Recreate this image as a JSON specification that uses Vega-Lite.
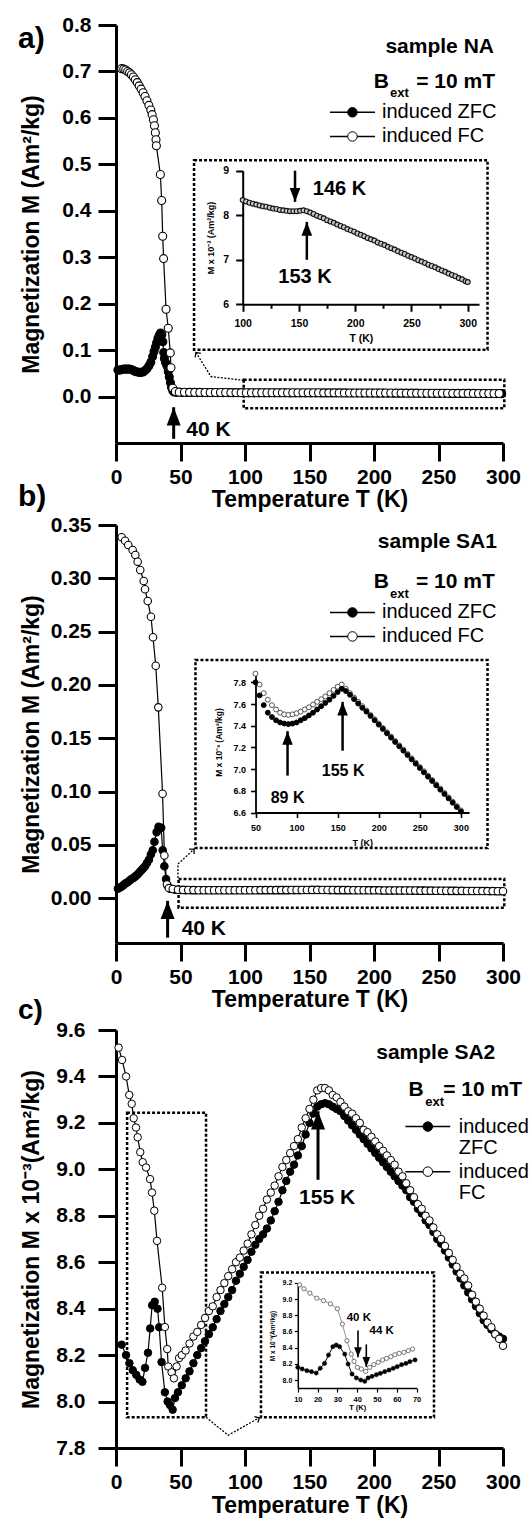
{
"$schema": "https://vega.github.io/schema/vega-lite/v6.json",
"background": "white",
"padding": {"left": 17, "top": 14, "right": 4, "bottom": 4},
"config": {
  "view": {"stroke": null},
  "axis": {"domainColor": "black", "domainWidth": 3, "tickColor": "black", "tickWidth": 3, "tickSize": 18, "labelFont": "Liberation Sans", "labelFontWeight": "bold", "labelFontSize": 21, "labelColor": "black", "titleFont": "Liberation Sans", "titleFontWeight": "bold", "titleFontSize": 23, "titleColor": "black", "grid": false, "labelOverlap": false, "labelFlush": false, "labelBound": false},
  "text": {"font": "Liberation Sans", "color": "black"}
},
"datasets": {
  "a_main": [
    {"s":"ZFC","T":1.5,"M":0.057},{"s":"ZFC","T":3,"M":0.057},{"s":"ZFC","T":4.5,"M":0.058},{"s":"ZFC","T":6,"M":0.059},{"s":"ZFC","T":7.5,"M":0.059},{"s":"ZFC","T":9,"M":0.059},{"s":"ZFC","T":10.5,"M":0.059},{"s":"ZFC","T":12,"M":0.058},{"s":"ZFC","T":13.5,"M":0.056},{"s":"ZFC","T":15,"M":0.054},{"s":"ZFC","T":16.5,"M":0.053},{"s":"ZFC","T":18,"M":0.052},{"s":"ZFC","T":19.5,"M":0.052},{"s":"ZFC","T":21,"M":0.053},{"s":"ZFC","T":22.5,"M":0.056},{"s":"ZFC","T":24,"M":0.060},{"s":"ZFC","T":25.5,"M":0.066},{"s":"ZFC","T":27,"M":0.074},{"s":"ZFC","T":28.4,"M":0.086},{"s":"ZFC","T":29.5,"M":0.097},{"s":"ZFC","T":30.5,"M":0.106},{"s":"ZFC","T":31.5,"M":0.116},{"s":"ZFC","T":32.5,"M":0.125},{"s":"ZFC","T":33.5,"M":0.132},{"s":"ZFC","T":34.5,"M":0.137},{"s":"ZFC","T":35.5,"M":0.133},{"s":"ZFC","T":36.3,"M":0.118},{"s":"ZFC","T":37,"M":0.095},{"s":"ZFC","T":37.5,"M":0.082},{"s":"ZFC","T":38.5,"M":0.073},{"s":"ZFC","T":39.5,"M":0.066},{"s":"ZFC","T":40.5,"M":0.054},{"s":"ZFC","T":41.3,"M":0.042},{"s":"ZFC","T":42.2,"M":0.030},{"s":"ZFC","T":43,"M":0.020},{"s":"ZFC","T":44,"M":0.013},{"s":"ZFC","T":45,"M":0.010},
    {"s":"ZFC","T":47,"M":0.0090},{"s":"ZFC","T":51,"M":0.0088},{"s":"ZFC","T":55,"M":0.0087},{"s":"ZFC","T":59,"M":0.0086},{"s":"ZFC","T":63,"M":0.0085},{"s":"ZFC","T":67,"M":0.0085},{"s":"ZFC","T":71,"M":0.0084},{"s":"ZFC","T":75,"M":0.0084},{"s":"ZFC","T":79,"M":0.0083},{"s":"ZFC","T":83,"M":0.0083},{"s":"ZFC","T":87,"M":0.0082},{"s":"ZFC","T":91,"M":0.0082},{"s":"ZFC","T":95,"M":0.0081},{"s":"ZFC","T":99,"M":0.0081},{"s":"ZFC","T":103,"M":0.0080},{"s":"ZFC","T":107,"M":0.0080},{"s":"ZFC","T":111,"M":0.0080},{"s":"ZFC","T":115,"M":0.0079},{"s":"ZFC","T":119,"M":0.0079},{"s":"ZFC","T":123,"M":0.0079},{"s":"ZFC","T":127,"M":0.0079},{"s":"ZFC","T":131,"M":0.0079},{"s":"ZFC","T":135,"M":0.0078},{"s":"ZFC","T":139,"M":0.0078},{"s":"ZFC","T":143,"M":0.0078},{"s":"ZFC","T":147,"M":0.0078},{"s":"ZFC","T":151,"M":0.0078},{"s":"ZFC","T":155,"M":0.0078},{"s":"ZFC","T":159,"M":0.0078},{"s":"ZFC","T":163,"M":0.0077},{"s":"ZFC","T":167,"M":0.0077},{"s":"ZFC","T":171,"M":0.0077},{"s":"ZFC","T":175,"M":0.0076},{"s":"ZFC","T":179,"M":0.0076},{"s":"ZFC","T":183,"M":0.0075},{"s":"ZFC","T":187,"M":0.0075},{"s":"ZFC","T":191,"M":0.0074},{"s":"ZFC","T":195,"M":0.0074},{"s":"ZFC","T":199,"M":0.0074},{"s":"ZFC","T":203,"M":0.0073},{"s":"ZFC","T":207,"M":0.0073},{"s":"ZFC","T":211,"M":0.0072},{"s":"ZFC","T":215,"M":0.0072},{"s":"ZFC","T":219,"M":0.0071},{"s":"ZFC","T":223,"M":0.0071},{"s":"ZFC","T":227,"M":0.0071},{"s":"ZFC","T":231,"M":0.0070},{"s":"ZFC","T":235,"M":0.0070},{"s":"ZFC","T":239,"M":0.0069},{"s":"ZFC","T":243,"M":0.0069},{"s":"ZFC","T":247,"M":0.0068},{"s":"ZFC","T":251,"M":0.0068},{"s":"ZFC","T":255,"M":0.0068},{"s":"ZFC","T":259,"M":0.0067},{"s":"ZFC","T":263,"M":0.0067},{"s":"ZFC","T":267,"M":0.0066},{"s":"ZFC","T":271,"M":0.0066},{"s":"ZFC","T":275,"M":0.0065},{"s":"ZFC","T":279,"M":0.0065},{"s":"ZFC","T":283,"M":0.0065},{"s":"ZFC","T":287,"M":0.0064},{"s":"ZFC","T":291,"M":0.0064},{"s":"ZFC","T":295,"M":0.0063},{"s":"ZFC","T":299,"M":0.0063},
    {"s":"FC","T":4.4,"M":0.706},{"s":"FC","T":6,"M":0.705},{"s":"FC","T":7.5,"M":0.703},{"s":"FC","T":9,"M":0.700},{"s":"FC","T":10.5,"M":0.697},{"s":"FC","T":12,"M":0.693},{"s":"FC","T":13.5,"M":0.688},{"s":"FC","T":15,"M":0.682},{"s":"FC","T":16.5,"M":0.676},{"s":"FC","T":18,"M":0.669},{"s":"FC","T":19.5,"M":0.662},{"s":"FC","T":21,"M":0.654},{"s":"FC","T":22.5,"M":0.646},{"s":"FC","T":24,"M":0.637},{"s":"FC","T":25.5,"M":0.627},{"s":"FC","T":27,"M":0.617},{"s":"FC","T":28,"M":0.607},{"s":"FC","T":29,"M":0.596},{"s":"FC","T":29.8,"M":0.583},{"s":"FC","T":30.5,"M":0.568},{"s":"FC","T":31,"M":0.553},{"s":"FC","T":31.3,"M":0.540},{"s":"FC","T":34.4,"M":0.478},{"s":"FC","T":35.4,"M":0.422},{"s":"FC","T":36.2,"M":0.345},{"s":"FC","T":36.9,"M":0.297},{"s":"FC","T":38.8,"M":0.188},{"s":"FC","T":40.5,"M":0.147},{"s":"FC","T":42.1,"M":0.094},{"s":"FC","T":42.6,"M":0.062},{"s":"FC","T":44,"M":0.018},{"s":"FC","T":46,"M":0.011},
    {"s":"FC","T":49,"M":0.0095},{"s":"FC","T":53,"M":0.0092},{"s":"FC","T":57,"M":0.0091},{"s":"FC","T":61,"M":0.0090},{"s":"FC","T":65,"M":0.0089},{"s":"FC","T":69,"M":0.0088},{"s":"FC","T":73,"M":0.0087},{"s":"FC","T":77,"M":0.0087},{"s":"FC","T":81,"M":0.0086},{"s":"FC","T":85,"M":0.0086},{"s":"FC","T":89,"M":0.0085},{"s":"FC","T":93,"M":0.0085},{"s":"FC","T":97,"M":0.0084},{"s":"FC","T":101,"M":0.0083},{"s":"FC","T":105,"M":0.0083},{"s":"FC","T":109,"M":0.0083},{"s":"FC","T":113,"M":0.0082},{"s":"FC","T":117,"M":0.0082},{"s":"FC","T":121,"M":0.0082},{"s":"FC","T":125,"M":0.0082},{"s":"FC","T":129,"M":0.0081},{"s":"FC","T":133,"M":0.0081},{"s":"FC","T":137,"M":0.0081},{"s":"FC","T":141,"M":0.0081},{"s":"FC","T":145,"M":0.0081},{"s":"FC","T":149,"M":0.0081},{"s":"FC","T":153,"M":0.0081},{"s":"FC","T":157,"M":0.0081},{"s":"FC","T":161,"M":0.0080},{"s":"FC","T":165,"M":0.0080},{"s":"FC","T":169,"M":0.0080},{"s":"FC","T":173,"M":0.0079},{"s":"FC","T":177,"M":0.0079},{"s":"FC","T":181,"M":0.0078},{"s":"FC","T":185,"M":0.0078},{"s":"FC","T":189,"M":0.0077},{"s":"FC","T":193,"M":0.0077},{"s":"FC","T":197,"M":0.0076},{"s":"FC","T":201,"M":0.0076},{"s":"FC","T":205,"M":0.0076},{"s":"FC","T":209,"M":0.0075},{"s":"FC","T":213,"M":0.0075},{"s":"FC","T":217,"M":0.0074},{"s":"FC","T":221,"M":0.0074},{"s":"FC","T":225,"M":0.0073},{"s":"FC","T":229,"M":0.0073},{"s":"FC","T":233,"M":0.0073},{"s":"FC","T":237,"M":0.0072},{"s":"FC","T":241,"M":0.0072},{"s":"FC","T":245,"M":0.0071},{"s":"FC","T":249,"M":0.0071},{"s":"FC","T":253,"M":0.0070},{"s":"FC","T":257,"M":0.0070},{"s":"FC","T":261,"M":0.0069},{"s":"FC","T":265,"M":0.0069},{"s":"FC","T":269,"M":0.0069},{"s":"FC","T":273,"M":0.0068},{"s":"FC","T":277,"M":0.0068},{"s":"FC","T":281,"M":0.0067},{"s":"FC","T":285,"M":0.0067},{"s":"FC","T":289,"M":0.0066},{"s":"FC","T":293,"M":0.0066},{"s":"FC","T":297,"M":0.0065}
  ],
  "a_box": [{"T":60.5,"T2":288,"M":0.101,"M2":0.509},{"T":99,"T2":301,"M":-0.025,"M2":0.036}],
  "a_con": [{"k":1,"T":99,"M":0.035},{"k":2,"T":73.6,"M":0.043},{"k":3,"T":62,"M":0.095}],
  "a_arr": [{"T":44.7,"M":-0.091,"M2":-0.023,"dir":"up"}],
  "a_leg": [{"s":"ZFC","T":165.9,"T2":200.8,"Tc":183.3,"M":0.612},{"s":"FC","T":165.9,"T2":200.8,"Tc":183.3,"M":0.560}],
  "a_txt": [
    {"role":"panel","T":-76,"M":0.769,"text":"a)"},
    {"role":"head","T":293,"M":0.752,"text":"sample NA"},
    {"role":"head","T":293.8,"M":0.677,"text":"= 10 mT"},
    {"role":"head","T":211.6,"M":0.677,"text":"B"},
    {"role":"sub","T":212.4,"M":0.653,"text":"ext"},
    {"role":"leg","T":206.2,"M":0.612,"text":"induced ZFC"},
    {"role":"leg","T":206.2,"M":0.560,"text":"induced FC"},
    {"role":"ann","T":71.7,"M":-0.073,"text":"40 K"}
  ],
  "a_ins": [
    {"T":100,"M":8.34},{"T":103,"M":8.31},{"T":106,"M":8.28},{"T":109,"M":8.26},{"T":112,"M":8.24},{"T":115,"M":8.22},{"T":118,"M":8.20},{"T":121,"M":8.19},{"T":124,"M":8.17},{"T":127,"M":8.15},{"T":130,"M":8.14},{"T":133,"M":8.12},{"T":136,"M":8.11},{"T":139,"M":8.10},{"T":142,"M":8.09},{"T":145,"M":8.09},{"T":148,"M":8.09},{"T":151,"M":8.10},{"T":154,"M":8.11},{"T":157,"M":8.09},{"T":160,"M":8.06},{"T":163,"M":8.03},{"T":166,"M":7.99},{"T":169,"M":7.96},{"T":172,"M":7.93},{"T":175,"M":7.89},{"T":178,"M":7.86},{"T":181,"M":7.83},{"T":184,"M":7.79},{"T":187,"M":7.76},{"T":190,"M":7.73},{"T":193,"M":7.69},{"T":196,"M":7.66},{"T":199,"M":7.63},{"T":202,"M":7.59},{"T":205,"M":7.56},{"T":208,"M":7.53},{"T":211,"M":7.49},{"T":214,"M":7.46},{"T":217,"M":7.43},{"T":220,"M":7.39},{"T":223,"M":7.36},{"T":226,"M":7.33},{"T":229,"M":7.29},{"T":232,"M":7.26},{"T":235,"M":7.23},{"T":238,"M":7.19},{"T":241,"M":7.16},{"T":244,"M":7.13},{"T":247,"M":7.09},{"T":250,"M":7.06},{"T":253,"M":7.03},{"T":256,"M":6.99},{"T":259,"M":6.96},{"T":262,"M":6.93},{"T":265,"M":6.89},{"T":268,"M":6.86},{"T":271,"M":6.83},{"T":274,"M":6.79},{"T":277,"M":6.76},{"T":280,"M":6.73},{"T":283,"M":6.69},{"T":286,"M":6.66},{"T":289,"M":6.63},{"T":292,"M":6.59},{"T":295,"M":6.56},{"T":298,"M":6.52},{"T":300,"M":6.50}
  ],
  "a_iarr": [{"T":146.5,"M":9.0,"M2":8.30,"dir":"down"},{"T":157,"M":7.0,"M2":7.85,"dir":"up"}],
  "a_itxt": [{"T":186,"M":8.6,"text":"146 K"},{"T":155.4,"M":6.62,"text":"153 K"}],
  "b_main": [
    {"s":"ZFC","T":1.5,"M":0.009},{"s":"ZFC","T":3,"M":0.010},{"s":"ZFC","T":4.5,"M":0.011},{"s":"ZFC","T":6,"M":0.0125},{"s":"ZFC","T":7.5,"M":0.014},{"s":"ZFC","T":9,"M":0.015},{"s":"ZFC","T":10.5,"M":0.0165},{"s":"ZFC","T":12,"M":0.018},{"s":"ZFC","T":13.5,"M":0.019},{"s":"ZFC","T":15,"M":0.0205},{"s":"ZFC","T":16.5,"M":0.022},{"s":"ZFC","T":18,"M":0.024},{"s":"ZFC","T":19.5,"M":0.026},{"s":"ZFC","T":21,"M":0.028},{"s":"ZFC","T":22.5,"M":0.030},{"s":"ZFC","T":24,"M":0.033},{"s":"ZFC","T":25.5,"M":0.036},{"s":"ZFC","T":27,"M":0.041},{"s":"ZFC","T":28.5,"M":0.045},{"s":"ZFC","T":29.8,"M":0.053},{"s":"ZFC","T":31.5,"M":0.062},{"s":"ZFC","T":33,"M":0.067},{"s":"ZFC","T":35,"M":0.066},{"s":"ZFC","T":36.2,"M":0.045},{"s":"ZFC","T":37.5,"M":0.030},{"s":"ZFC","T":38.8,"M":0.018},{"s":"ZFC","T":40,"M":0.012},
    {"s":"ZFC","T":42,"M":0.0090},{"s":"ZFC","T":46,"M":0.0079},{"s":"ZFC","T":50,"M":0.0077},{"s":"ZFC","T":54,"M":0.0076},{"s":"ZFC","T":58,"M":0.0075},{"s":"ZFC","T":62,"M":0.0075},{"s":"ZFC","T":66,"M":0.0074},{"s":"ZFC","T":70,"M":0.0074},{"s":"ZFC","T":74,"M":0.0074},{"s":"ZFC","T":78,"M":0.0074},{"s":"ZFC","T":82,"M":0.0074},{"s":"ZFC","T":86,"M":0.0074},{"s":"ZFC","T":90,"M":0.0074},{"s":"ZFC","T":94,"M":0.0074},{"s":"ZFC","T":98,"M":0.0074},{"s":"ZFC","T":102,"M":0.0074},{"s":"ZFC","T":106,"M":0.0075},{"s":"ZFC","T":110,"M":0.0075},{"s":"ZFC","T":114,"M":0.0075},{"s":"ZFC","T":118,"M":0.0075},{"s":"ZFC","T":122,"M":0.0075},{"s":"ZFC","T":126,"M":0.0076},{"s":"ZFC","T":130,"M":0.0076},{"s":"ZFC","T":134,"M":0.0076},{"s":"ZFC","T":138,"M":0.0076},{"s":"ZFC","T":142,"M":0.0076},{"s":"ZFC","T":146,"M":0.0077},{"s":"ZFC","T":150,"M":0.0077},{"s":"ZFC","T":154,"M":0.0077},{"s":"ZFC","T":158,"M":0.0077},{"s":"ZFC","T":162,"M":0.0077},{"s":"ZFC","T":166,"M":0.0076},{"s":"ZFC","T":170,"M":0.0076},{"s":"ZFC","T":174,"M":0.0076},{"s":"ZFC","T":178,"M":0.0076},{"s":"ZFC","T":182,"M":0.0075},{"s":"ZFC","T":186,"M":0.0075},{"s":"ZFC","T":190,"M":0.0075},{"s":"ZFC","T":194,"M":0.0074},{"s":"ZFC","T":198,"M":0.0074},{"s":"ZFC","T":202,"M":0.0074},{"s":"ZFC","T":206,"M":0.0073},{"s":"ZFC","T":210,"M":0.0073},{"s":"ZFC","T":214,"M":0.0073},{"s":"ZFC","T":218,"M":0.0072},{"s":"ZFC","T":222,"M":0.0072},{"s":"ZFC","T":226,"M":0.0072},{"s":"ZFC","T":230,"M":0.0071},{"s":"ZFC","T":234,"M":0.0071},{"s":"ZFC","T":238,"M":0.0071},{"s":"ZFC","T":242,"M":0.0070},{"s":"ZFC","T":246,"M":0.0070},{"s":"ZFC","T":250,"M":0.0070},{"s":"ZFC","T":254,"M":0.0069},{"s":"ZFC","T":258,"M":0.0069},{"s":"ZFC","T":262,"M":0.0069},{"s":"ZFC","T":266,"M":0.0068},{"s":"ZFC","T":270,"M":0.0068},{"s":"ZFC","T":274,"M":0.0068},{"s":"ZFC","T":278,"M":0.0067},{"s":"ZFC","T":282,"M":0.0067},{"s":"ZFC","T":286,"M":0.0067},{"s":"ZFC","T":290,"M":0.0066},{"s":"ZFC","T":294,"M":0.0066},{"s":"ZFC","T":298,"M":0.0066},
    {"s":"FC","T":4.4,"M":0.3385},{"s":"FC","T":7.0,"M":0.3353},{"s":"FC","T":9.5,"M":0.3312},{"s":"FC","T":12.9,"M":0.3265},{"s":"FC","T":15.0,"M":0.3219},{"s":"FC","T":16.8,"M":0.3156},{"s":"FC","T":18.8,"M":0.3078},{"s":"FC","T":21.5,"M":0.2975},{"s":"FC","T":22.5,"M":0.2897},{"s":"FC","T":24.6,"M":0.2787},{"s":"FC","T":27.1,"M":0.2640},{"s":"FC","T":28.7,"M":0.2447},{"s":"FC","T":30.8,"M":0.2180},{"s":"FC","T":32.8,"M":0.1790},{"s":"FC","T":36.1,"M":0.098},{"s":"FC","T":37.5,"M":0.040},{"s":"FC","T":39.5,"M":0.013},{"s":"FC","T":41,"M":0.0095},
    {"s":"FC","T":44,"M":0.0086},{"s":"FC","T":48,"M":0.0080},{"s":"FC","T":52,"M":0.0078},{"s":"FC","T":56,"M":0.0077},{"s":"FC","T":60,"M":0.0076},{"s":"FC","T":64,"M":0.0075},{"s":"FC","T":68,"M":0.0075},{"s":"FC","T":72,"M":0.0075},{"s":"FC","T":76,"M":0.0075},{"s":"FC","T":80,"M":0.0075},{"s":"FC","T":84,"M":0.0075},{"s":"FC","T":88,"M":0.0075},{"s":"FC","T":92,"M":0.0075},{"s":"FC","T":96,"M":0.0075},{"s":"FC","T":100,"M":0.0075},{"s":"FC","T":104,"M":0.0075},{"s":"FC","T":108,"M":0.0075},{"s":"FC","T":112,"M":0.0076},{"s":"FC","T":116,"M":0.0076},{"s":"FC","T":120,"M":0.0076},{"s":"FC","T":124,"M":0.0076},{"s":"FC","T":128,"M":0.0076},{"s":"FC","T":132,"M":0.0076},{"s":"FC","T":136,"M":0.0077},{"s":"FC","T":140,"M":0.0077},{"s":"FC","T":144,"M":0.0077},{"s":"FC","T":148,"M":0.0077},{"s":"FC","T":152,"M":0.0078},{"s":"FC","T":156,"M":0.0078},{"s":"FC","T":160,"M":0.0077},{"s":"FC","T":164,"M":0.0077},{"s":"FC","T":168,"M":0.0077},{"s":"FC","T":172,"M":0.0076},{"s":"FC","T":176,"M":0.0076},{"s":"FC","T":180,"M":0.0076},{"s":"FC","T":184,"M":0.0075},{"s":"FC","T":188,"M":0.0075},{"s":"FC","T":192,"M":0.0075},{"s":"FC","T":196,"M":0.0074},{"s":"FC","T":200,"M":0.0074},{"s":"FC","T":204,"M":0.0074},{"s":"FC","T":208,"M":0.0073},{"s":"FC","T":212,"M":0.0073},{"s":"FC","T":216,"M":0.0073},{"s":"FC","T":220,"M":0.0073},{"s":"FC","T":224,"M":0.0072},{"s":"FC","T":228,"M":0.0072},{"s":"FC","T":232,"M":0.0072},{"s":"FC","T":236,"M":0.0071},{"s":"FC","T":240,"M":0.0071},{"s":"FC","T":244,"M":0.0071},{"s":"FC","T":248,"M":0.0070},{"s":"FC","T":252,"M":0.0070},{"s":"FC","T":256,"M":0.0070},{"s":"FC","T":260,"M":0.0069},{"s":"FC","T":264,"M":0.0069},{"s":"FC","T":268,"M":0.0069},{"s":"FC","T":272,"M":0.0068},{"s":"FC","T":276,"M":0.0068},{"s":"FC","T":280,"M":0.0068},{"s":"FC","T":284,"M":0.0067},{"s":"FC","T":288,"M":0.0067},{"s":"FC","T":292,"M":0.0067},{"s":"FC","T":296,"M":0.0066},{"s":"FC","T":300,"M":0.0066}
  ],
  "b_box": [{"T":61.6,"T2":288,"M":0.047,"M2":0.2234},{"T":48.5,"T2":301,"M":-0.009,"M2":0.018}],
  "b_con": [{"k":1,"T":48,"M":0.019},{"k":2,"T":48,"M":0.032},{"k":3,"T":60.5,"M":0.046}],
  "b_arr": [{"T":40,"M":-0.037,"M2":-0.0025,"dir":"up"}],
  "b_leg": [{"s":"ZFC","T":165.9,"T2":200.8,"Tc":183.3,"M":0.268},{"s":"FC","T":165.9,"T2":200.8,"Tc":183.3,"M":0.2455}],
  "b_txt": [
    {"role":"panel","T":-76,"M":0.376,"text":"b)"},
    {"role":"head","T":295.3,"M":0.3337,"text":"sample SA1"},
    {"role":"head","T":293.6,"M":0.2962,"text":"= 10 mT"},
    {"role":"head","T":211.6,"M":0.2962,"text":"B"},
    {"role":"sub","T":212.4,"M":0.2855,"text":"ext"},
    {"role":"leg","T":206.2,"M":0.268,"text":"induced ZFC"},
    {"role":"leg","T":206.2,"M":0.2455,"text":"induced FC"},
    {"role":"ann","T":68.1,"M":-0.029,"text":"40 K"}
  ],
  "b_ins": [
    {"s":"FC","T":50,"M":7.88},{"s":"FC","T":55,"M":7.78},{"s":"FC","T":60,"M":7.70},{"s":"FC","T":65,"M":7.64},{"s":"FC","T":70,"M":7.59},{"s":"FC","T":75,"M":7.55},{"s":"FC","T":80,"M":7.52},{"s":"FC","T":85,"M":7.505},{"s":"FC","T":90,"M":7.50},{"s":"FC","T":95,"M":7.505},{"s":"FC","T":100,"M":7.515},{"s":"FC","T":105,"M":7.53},{"s":"FC","T":110,"M":7.55},{"s":"FC","T":115,"M":7.57},{"s":"FC","T":120,"M":7.595},{"s":"FC","T":125,"M":7.62},{"s":"FC","T":130,"M":7.645},{"s":"FC","T":135,"M":7.67},{"s":"FC","T":140,"M":7.70},{"s":"FC","T":145,"M":7.73},{"s":"FC","T":150,"M":7.76},{"s":"FC","T":155,"M":7.78},{"s":"FC","T":160,"M":7.74},{"s":"FC","T":165,"M":7.70},{"s":"FC","T":170,"M":7.66},{"s":"FC","T":175,"M":7.62},{"s":"FC","T":180,"M":7.58},{"s":"FC","T":185,"M":7.54},{"s":"FC","T":190,"M":7.50},{"s":"FC","T":195,"M":7.46},{"s":"FC","T":200,"M":7.42},{"s":"FC","T":205,"M":7.38},{"s":"FC","T":210,"M":7.34},{"s":"FC","T":215,"M":7.30},{"s":"FC","T":220,"M":7.26},{"s":"FC","T":225,"M":7.22},{"s":"FC","T":230,"M":7.18},{"s":"FC","T":235,"M":7.14},{"s":"FC","T":240,"M":7.10},{"s":"FC","T":245,"M":7.06},{"s":"FC","T":250,"M":7.02},{"s":"FC","T":255,"M":6.98},{"s":"FC","T":260,"M":6.94},{"s":"FC","T":265,"M":6.90},{"s":"FC","T":270,"M":6.86},{"s":"FC","T":275,"M":6.82},{"s":"FC","T":280,"M":6.78},{"s":"FC","T":285,"M":6.74},{"s":"FC","T":290,"M":6.70},{"s":"FC","T":295,"M":6.66},{"s":"FC","T":300,"M":6.62},
    {"s":"ZFC","T":50,"M":7.80},{"s":"ZFC","T":55,"M":7.68},{"s":"ZFC","T":60,"M":7.59},{"s":"ZFC","T":65,"M":7.52},{"s":"ZFC","T":70,"M":7.48},{"s":"ZFC","T":75,"M":7.45},{"s":"ZFC","T":80,"M":7.43},{"s":"ZFC","T":85,"M":7.42},{"s":"ZFC","T":90,"M":7.415},{"s":"ZFC","T":95,"M":7.42},{"s":"ZFC","T":100,"M":7.43},{"s":"ZFC","T":105,"M":7.45},{"s":"ZFC","T":110,"M":7.47},{"s":"ZFC","T":115,"M":7.495},{"s":"ZFC","T":120,"M":7.52},{"s":"ZFC","T":125,"M":7.55},{"s":"ZFC","T":130,"M":7.58},{"s":"ZFC","T":135,"M":7.61},{"s":"ZFC","T":140,"M":7.64},{"s":"ZFC","T":145,"M":7.675},{"s":"ZFC","T":150,"M":7.71},{"s":"ZFC","T":155,"M":7.74},{"s":"ZFC","T":160,"M":7.72},{"s":"ZFC","T":165,"M":7.685},{"s":"ZFC","T":170,"M":7.645},{"s":"ZFC","T":175,"M":7.605},{"s":"ZFC","T":180,"M":7.565},{"s":"ZFC","T":185,"M":7.53},{"s":"ZFC","T":190,"M":7.49},{"s":"ZFC","T":195,"M":7.45},{"s":"ZFC","T":200,"M":7.41},{"s":"ZFC","T":205,"M":7.37},{"s":"ZFC","T":210,"M":7.33},{"s":"ZFC","T":215,"M":7.29},{"s":"ZFC","T":220,"M":7.25},{"s":"ZFC","T":225,"M":7.21},{"s":"ZFC","T":230,"M":7.17},{"s":"ZFC","T":235,"M":7.13},{"s":"ZFC","T":240,"M":7.09},{"s":"ZFC","T":245,"M":7.05},{"s":"ZFC","T":250,"M":7.01},{"s":"ZFC","T":255,"M":6.97},{"s":"ZFC","T":260,"M":6.93},{"s":"ZFC","T":265,"M":6.89},{"s":"ZFC","T":270,"M":6.85},{"s":"ZFC","T":275,"M":6.81},{"s":"ZFC","T":280,"M":6.77},{"s":"ZFC","T":285,"M":6.73},{"s":"ZFC","T":290,"M":6.69},{"s":"ZFC","T":295,"M":6.65},{"s":"ZFC","T":300,"M":6.61}
  ],
  "b_iarr": [{"T":89,"M":6.94,"M2":7.35,"dir":"up"},{"T":156,"M":7.17,"M2":7.62,"dir":"up"}],
  "b_itxt": [{"T":89,"M":6.73,"text":"89 K"},{"T":156.7,"M":6.98,"text":"155 K"}],
  "c_main": [
    {"s":"ZFC","T":4.4,"M":8.245},{"s":"ZFC","T":7.8,"M":8.20},{"s":"ZFC","T":10.4,"M":8.165},{"s":"ZFC","T":13,"M":8.135},{"s":"ZFC","T":15.7,"M":8.115},{"s":"ZFC","T":18.3,"M":8.095},{"s":"ZFC","T":20.5,"M":8.085},{"s":"ZFC","T":22.5,"M":8.145},{"s":"ZFC","T":24.8,"M":8.21},{"s":"ZFC","T":26.5,"M":8.315},{"s":"ZFC","T":28,"M":8.415},{"s":"ZFC","T":30,"M":8.43},{"s":"ZFC","T":32.2,"M":8.40},{"s":"ZFC","T":33.5,"M":8.32},{"s":"ZFC","T":35.3,"M":8.17},{"s":"ZFC","T":37.9,"M":8.04},{"s":"ZFC","T":40,"M":8.0},{"s":"ZFC","T":41.8,"M":7.985},{"s":"ZFC","T":43.9,"M":7.965},{"s":"ZFC","T":45.7,"M":8.015},{"s":"ZFC","T":48,"M":8.04},{"s":"ZFC","T":51,"M":8.07},{"s":"ZFC","T":54,"M":8.10},{"s":"ZFC","T":57,"M":8.13},{"s":"ZFC","T":60,"M":8.165},{"s":"ZFC","T":63,"M":8.20},{"s":"ZFC","T":66,"M":8.23},{"s":"ZFC","T":69,"M":8.26},{"s":"ZFC","T":72,"M":8.29},{"s":"ZFC","T":75,"M":8.32},{"s":"ZFC","T":78,"M":8.355},{"s":"ZFC","T":81,"M":8.39},{"s":"ZFC","T":84,"M":8.42},{"s":"ZFC","T":87,"M":8.45},{"s":"ZFC","T":90,"M":8.48},{"s":"ZFC","T":93,"M":8.52},{"s":"ZFC","T":96,"M":8.55},{"s":"ZFC","T":99,"M":8.58},{"s":"ZFC","T":102,"M":8.61},{"s":"ZFC","T":105,"M":8.645},{"s":"ZFC","T":108,"M":8.675},{"s":"ZFC","T":111,"M":8.70},{"s":"ZFC","T":114,"M":8.72},{"s":"ZFC","T":117,"M":8.745},{"s":"ZFC","T":120,"M":8.78},{"s":"ZFC","T":123,"M":8.82},{"s":"ZFC","T":126,"M":8.86},{"s":"ZFC","T":129,"M":8.91},{"s":"ZFC","T":132,"M":8.95},{"s":"ZFC","T":135,"M":8.99},{"s":"ZFC","T":138,"M":9.02},{"s":"ZFC","T":141,"M":9.06},{"s":"ZFC","T":144,"M":9.10},{"s":"ZFC","T":147,"M":9.15},{"s":"ZFC","T":150,"M":9.20},{"s":"ZFC","T":153,"M":9.24},{"s":"ZFC","T":156,"M":9.27},{"s":"ZFC","T":159,"M":9.28},{"s":"ZFC","T":162,"M":9.285},{"s":"ZFC","T":165,"M":9.28},{"s":"ZFC","T":168,"M":9.27},{"s":"ZFC","T":171,"M":9.26},{"s":"ZFC","T":174,"M":9.25},{"s":"ZFC","T":177,"M":9.23},{"s":"ZFC","T":180,"M":9.21},{"s":"ZFC","T":183,"M":9.19},{"s":"ZFC","T":186,"M":9.17},{"s":"ZFC","T":189,"M":9.15},{"s":"ZFC","T":192,"M":9.13},{"s":"ZFC","T":195,"M":9.11},{"s":"ZFC","T":198,"M":9.09},{"s":"ZFC","T":201,"M":9.07},{"s":"ZFC","T":204,"M":9.05},{"s":"ZFC","T":207,"M":9.03},{"s":"ZFC","T":210,"M":9.01},{"s":"ZFC","T":213,"M":8.99},{"s":"ZFC","T":216,"M":8.97},{"s":"ZFC","T":219,"M":8.95},{"s":"ZFC","T":222,"M":8.93},{"s":"ZFC","T":225,"M":8.91},{"s":"ZFC","T":228,"M":8.88},{"s":"ZFC","T":231,"M":8.86},{"s":"ZFC","T":234,"M":8.83},{"s":"ZFC","T":237,"M":8.81},{"s":"ZFC","T":240,"M":8.78},{"s":"ZFC","T":243,"M":8.76},{"s":"ZFC","T":246,"M":8.73},{"s":"ZFC","T":249,"M":8.70},{"s":"ZFC","T":252,"M":8.68},{"s":"ZFC","T":255,"M":8.65},{"s":"ZFC","T":258,"M":8.62},{"s":"ZFC","T":261,"M":8.59},{"s":"ZFC","T":264,"M":8.56},{"s":"ZFC","T":267,"M":8.53},{"s":"ZFC","T":270,"M":8.50},{"s":"ZFC","T":273,"M":8.47},{"s":"ZFC","T":276,"M":8.44},{"s":"ZFC","T":279,"M":8.41},{"s":"ZFC","T":282,"M":8.38},{"s":"ZFC","T":285,"M":8.35},{"s":"ZFC","T":288,"M":8.33},{"s":"ZFC","T":291,"M":8.31},{"s":"ZFC","T":294,"M":8.29},{"s":"ZFC","T":297,"M":8.28},{"s":"ZFC","T":300,"M":8.27},
    {"s":"FC","T":2,"M":9.524},{"s":"FC","T":4.7,"M":9.471},{"s":"FC","T":7.8,"M":9.40},{"s":"FC","T":10.3,"M":9.32},{"s":"FC","T":12.2,"M":9.282},{"s":"FC","T":13.7,"M":9.22},{"s":"FC","T":15.5,"M":9.18},{"s":"FC","T":16.8,"M":9.138},{"s":"FC","T":18.8,"M":9.074},{"s":"FC","T":20.7,"M":9.031},{"s":"FC","T":23.3,"M":9.008},{"s":"FC","T":26.4,"M":8.958},{"s":"FC","T":27.9,"M":8.90},{"s":"FC","T":29.7,"M":8.822},{"s":"FC","T":31.8,"M":8.692},{"s":"FC","T":35.8,"M":8.49},{"s":"FC","T":37.9,"M":8.321},{"s":"FC","T":39.7,"M":8.226},{"s":"FC","T":40.5,"M":8.151},{"s":"FC","T":43.1,"M":8.126},{"s":"FC","T":44.9,"M":8.10},{"s":"FC","T":47,"M":8.151},{"s":"FC","T":48.9,"M":8.187},{"s":"FC","T":51,"M":8.20},{"s":"FC","T":54,"M":8.22},{"s":"FC","T":57,"M":8.25},{"s":"FC","T":60,"M":8.28},{"s":"FC","T":63,"M":8.30},{"s":"FC","T":66,"M":8.33},{"s":"FC","T":69,"M":8.36},{"s":"FC","T":72,"M":8.39},{"s":"FC","T":75,"M":8.41},{"s":"FC","T":78,"M":8.45},{"s":"FC","T":81,"M":8.48},{"s":"FC","T":84,"M":8.51},{"s":"FC","T":87,"M":8.54},{"s":"FC","T":90,"M":8.57},{"s":"FC","T":93,"M":8.60},{"s":"FC","T":96,"M":8.62},{"s":"FC","T":99,"M":8.65},{"s":"FC","T":102,"M":8.68},{"s":"FC","T":105,"M":8.72},{"s":"FC","T":108,"M":8.76},{"s":"FC","T":111,"M":8.80},{"s":"FC","T":114,"M":8.83},{"s":"FC","T":117,"M":8.87},{"s":"FC","T":120,"M":8.90},{"s":"FC","T":123,"M":8.93},{"s":"FC","T":126,"M":8.97},{"s":"FC","T":129,"M":9.01},{"s":"FC","T":132,"M":9.04},{"s":"FC","T":135,"M":9.07},{"s":"FC","T":138,"M":9.10},{"s":"FC","T":141,"M":9.13},{"s":"FC","T":144,"M":9.18},{"s":"FC","T":147,"M":9.22},{"s":"FC","T":150,"M":9.26},{"s":"FC","T":153,"M":9.30},{"s":"FC","T":156,"M":9.34},{"s":"FC","T":159,"M":9.35},{"s":"FC","T":162,"M":9.35},{"s":"FC","T":165,"M":9.34},{"s":"FC","T":168,"M":9.32},{"s":"FC","T":171,"M":9.31},{"s":"FC","T":174,"M":9.29},{"s":"FC","T":177,"M":9.27},{"s":"FC","T":180,"M":9.25},{"s":"FC","T":183,"M":9.24},{"s":"FC","T":186,"M":9.22},{"s":"FC","T":189,"M":9.20},{"s":"FC","T":192,"M":9.17},{"s":"FC","T":195,"M":9.16},{"s":"FC","T":198,"M":9.14},{"s":"FC","T":201,"M":9.12},{"s":"FC","T":204,"M":9.10},{"s":"FC","T":207,"M":9.08},{"s":"FC","T":210,"M":9.06},{"s":"FC","T":213,"M":9.04},{"s":"FC","T":216,"M":9.02},{"s":"FC","T":219,"M":8.99},{"s":"FC","T":222,"M":8.97},{"s":"FC","T":225,"M":8.94},{"s":"FC","T":228,"M":8.91},{"s":"FC","T":231,"M":8.88},{"s":"FC","T":234,"M":8.85},{"s":"FC","T":237,"M":8.83},{"s":"FC","T":240,"M":8.80},{"s":"FC","T":243,"M":8.78},{"s":"FC","T":246,"M":8.75},{"s":"FC","T":249,"M":8.72},{"s":"FC","T":252,"M":8.70},{"s":"FC","T":255,"M":8.67},{"s":"FC","T":258,"M":8.64},{"s":"FC","T":261,"M":8.61},{"s":"FC","T":264,"M":8.58},{"s":"FC","T":267,"M":8.55},{"s":"FC","T":270,"M":8.53},{"s":"FC","T":273,"M":8.50},{"s":"FC","T":276,"M":8.46},{"s":"FC","T":279,"M":8.43},{"s":"FC","T":282,"M":8.40},{"s":"FC","T":285,"M":8.37},{"s":"FC","T":288,"M":8.34},{"s":"FC","T":291,"M":8.32},{"s":"FC","T":294,"M":8.29},{"s":"FC","T":297,"M":8.27},{"s":"FC","T":300,"M":8.24}
  ],
  "c_box": [{"T":8.6,"T2":69.8,"M":7.932,"M2":9.244},{"T":112.4,"T2":246.5,"M":7.932,"M2":8.556}],
  "c_con": [{"k":1,"T":69.8,"M":7.932},{"k":2,"T":87,"M":7.855},{"k":3,"T":111,"M":7.93}],
  "c_arr": [{"T":156.6,"M":8.955,"M2":9.25,"dir":"up"}],
  "c_leg": [{"s":"ZFC","T":224.3,"T2":259.1,"Tc":241.7,"M":9.184},{"s":"FC","T":224.3,"T2":259.1,"Tc":241.7,"M":8.99}],
  "c_txt": [
    {"role":"panel","T":-76,"M":9.682,"text":"c)"},
    {"role":"head","T":294,"M":9.5,"text":"sample SA2"},
    {"role":"head","T":314.7,"M":9.342,"text":"= 10 mT"},
    {"role":"head","T":238.5,"M":9.342,"text":"B"},
    {"role":"sub","T":239.8,"M":9.292,"text":"ext"},
    {"role":"leg","T":265.7,"M":9.184,"text":"induced"},
    {"role":"leg","T":265.7,"M":9.091,"text":"ZFC"},
    {"role":"leg","T":265.7,"M":8.99,"text":"induced"},
    {"role":"leg","T":265.7,"M":8.90,"text":"FC"},
    {"role":"ann","T":163.6,"M":8.876,"text":"155 K"}
  ],
  "c_ins": [
    {"s":"FC","T":10.9,"M":9.175},{"s":"FC","T":13.1,"M":9.126},{"s":"FC","T":16.1,"M":9.072},{"s":"FC","T":19.6,"M":9.01},{"s":"FC","T":23.0,"M":8.98},{"s":"FC","T":26.5,"M":8.94},{"s":"FC","T":30.0,"M":8.88},{"s":"FC","T":32.5,"M":8.69},{"s":"FC","T":34.8,"M":8.485},{"s":"FC","T":37,"M":8.32},{"s":"FC","T":38.4,"M":8.23},{"s":"FC","T":40.1,"M":8.156},{"s":"FC","T":42.1,"M":8.136},{"s":"FC","T":44.3,"M":8.107},{"s":"FC","T":46.3,"M":8.156},{"s":"FC","T":48.4,"M":8.19},{"s":"FC","T":50.6,"M":8.218},{"s":"FC","T":52.8,"M":8.247},{"s":"FC","T":54.8,"M":8.267},{"s":"FC","T":57,"M":8.288},{"s":"FC","T":59,"M":8.312},{"s":"FC","T":61.2,"M":8.329},{"s":"FC","T":63.6,"M":8.341},{"s":"FC","T":65.8,"M":8.362},{"s":"FC","T":68,"M":8.382},
    {"s":"ZFC","T":10,"M":8.156},{"s":"ZFC","T":12.2,"M":8.136},{"s":"ZFC","T":14.6,"M":8.115},{"s":"ZFC","T":16.9,"M":8.103},{"s":"ZFC","T":19.3,"M":8.086},{"s":"ZFC","T":21.3,"M":8.144},{"s":"ZFC","T":23.5,"M":8.205},{"s":"ZFC","T":25.5,"M":8.308},{"s":"ZFC","T":27.7,"M":8.411},{"s":"ZFC","T":29.4,"M":8.432},{"s":"ZFC","T":31.1,"M":8.411},{"s":"ZFC","T":33.7,"M":8.32},{"s":"ZFC","T":35.4,"M":8.197},{"s":"ZFC","T":37.4,"M":8.074},{"s":"ZFC","T":39.6,"M":8.025},{"s":"ZFC","T":41.8,"M":8.0},{"s":"ZFC","T":43.8,"M":7.984},{"s":"ZFC","T":45.5,"M":8.025},{"s":"ZFC","T":47.5,"M":8.045},{"s":"ZFC","T":49.7,"M":8.066},{"s":"ZFC","T":51.7,"M":8.082},{"s":"ZFC","T":53.9,"M":8.103},{"s":"ZFC","T":56.1,"M":8.123},{"s":"ZFC","T":58.2,"M":8.144},{"s":"ZFC","T":60.2,"M":8.164},{"s":"ZFC","T":62.4,"M":8.189},{"s":"ZFC","T":64.6,"M":8.205},{"s":"ZFC","T":66.6,"M":8.226},{"s":"ZFC","T":69.2,"M":8.247}
  ],
  "c_iarr": [{"T":40.4,"M":8.61,"M2":8.28,"dir":"down"},{"T":44.6,"M":8.44,"M2":8.16,"dir":"down"}],
  "c_itxt": [{"T":40.8,"M":8.77,"text":"40 K"},{"T":52.4,"M":8.61,"text":"44 K"}]
},
"spacing": 82,
"bounds": "flush",
"vconcat": [
{
 "width": 387, "height": 418,
 "resolve": {"scale": {"x": "independent", "y": "independent"}},
 "layer": [
  {"layer": [
    {"data": {"name": "a_box"},
     "mark": {"type": "rect", "fill": "transparent", "stroke": "black", "strokeWidth": 2.5, "strokeDash": [3, 2]},
     "encoding": {
       "x": {"field": "T", "type": "quantitative", "scale": {"domain": [0, 300], "nice": false, "zero": false},
             "axis": {"values": [0,25,50,75,100,125,150,175,200,225,250,275,300], "labelExpr": "datum.value % 50 == 0 ? datum.label : ''", "tickSize": {"condition": {"test": "datum.value % 50 != 0", "value": 9}, "value": 18}, "title": "Temperature T (K)", "titleBaseline": "alphabetic", "titleY": 63, "labelPadding": 5}},
       "x2": {"field": "T2"},
       "y": {"field": "M", "type": "quantitative", "scale": {"domain": [-0.1, 0.8], "nice": false, "zero": false},
             "axis": {"values": [0,0.1,0.2,0.3,0.4,0.5,0.6,0.7,0.8], "format": ".1f", "title": "Magnetization M (Am²/kg)", "titleBaseline": "alphabetic", "titleAngle": -90, "titleX": -78, "titleY": 209, "labelPadding": 7}},
       "y2": {"field": "M2"}}},
    {"data": {"name": "a_con"}, "mark": {"type": "line", "color": "black", "strokeWidth": 1.3, "strokeDash": [2, 1.5]},
     "encoding": {"x": {"field": "T", "type": "quantitative"}, "y": {"field": "M", "type": "quantitative"}, "order": {"field": "k", "type": "quantitative"}}},
    {"data": {"name": "a_con"}, "transform": [{"filter": "datum.k == 3"}],
     "mark": {"type": "point", "shape": "M-1,-1L0,0L-1,1", "filled": false, "stroke": "black", "strokeWidth": 1.3, "size": 49, "angle": 236, "opacity": 1},
     "encoding": {"x": {"field": "T", "type": "quantitative"}, "y": {"field": "M", "type": "quantitative"}}},
    {"data": {"name": "a_main"}, "mark": {"type": "line", "color": "black", "strokeWidth": 1.2},
     "encoding": {"x": {"field": "T", "type": "quantitative"}, "y": {"field": "M", "type": "quantitative"}, "detail": {"field": "s"}}},
    {"data": {"name": "a_main"}, "mark": {"type": "point", "shape": "circle", "filled": true, "stroke": "black", "strokeWidth": 1.1, "size": 64, "opacity": 1},
     "encoding": {"x": {"field": "T", "type": "quantitative"}, "y": {"field": "M", "type": "quantitative"},
                  "fill": {"field": "s", "type": "nominal", "scale": {"domain": ["ZFC", "FC"], "range": ["black", "white"]}, "legend": null}}},
    {"data": {"name": "a_arr"}, "mark": {"type": "rule", "color": "black", "strokeWidth": 3},
     "encoding": {"x": {"field": "T", "type": "quantitative"}, "y": {"field": "M", "type": "quantitative"}, "y2": {"field": "M2"}}},
    {"data": {"name": "a_arr"}, "mark": {"type": "point", "filled": true, "fill": "black", "strokeWidth": 0, "size": 196, "opacity": 1},
     "encoding": {"x": {"field": "T", "type": "quantitative"}, "y": {"field": "M2", "type": "quantitative"},
                  "shape": {"field": "dir", "type": "nominal", "scale": {"domain": ["up", "down"], "range": ["M0,0L-1,2.6L1,2.6Z", "M0,0L-1,-2.6L1,-2.6Z"]}, "legend": null}}},
    {"data": {"name": "a_leg"}, "mark": {"type": "rule", "color": "black", "strokeWidth": 1.5},
     "encoding": {"x": {"field": "T", "type": "quantitative"}, "x2": {"field": "T2"}, "y": {"field": "M", "type": "quantitative"}}},
    {"data": {"name": "a_leg"}, "mark": {"type": "point", "shape": "circle", "filled": true, "stroke": "black", "strokeWidth": 1, "size": 90, "opacity": 1},
     "encoding": {"x": {"field": "Tc", "type": "quantitative"}, "y": {"field": "M", "type": "quantitative"},
                  "fill": {"field": "s", "type": "nominal", "scale": {"domain": ["ZFC", "FC"], "range": ["black", "white"]}, "legend": null}}},
    {"data": {"name": "a_txt"},
     "encoding": {"x": {"field": "T", "type": "quantitative"}, "y": {"field": "M", "type": "quantitative"}, "text": {"field": "text"}},
     "layer": [
       {"transform": [{"filter": "datum.role == 'panel'"}], "mark": {"type": "text", "fontSize": 30, "fontWeight": "bold", "align": "left"}},
       {"transform": [{"filter": "datum.role == 'head'"}], "mark": {"type": "text", "fontSize": 21, "fontWeight": "bold", "align": "right"}},
       {"transform": [{"filter": "datum.role == 'sub'"}], "mark": {"type": "text", "fontSize": 13, "fontWeight": "bold", "align": "left"}},
       {"transform": [{"filter": "datum.role == 'leg'"}], "mark": {"type": "text", "fontSize": 20, "fontWeight": "normal", "align": "left"}},
       {"transform": [{"filter": "datum.role == 'ann'"}], "mark": {"type": "text", "fontSize": 21, "fontWeight": "bold", "align": "center"}}
     ]}
  ]},
  {"layer": [
    {"data": {"name": "a_ins"},
     "mark": {"type": "point", "shape": "circle", "filled": true, "fill": "#c8c8c8", "stroke": "#111111", "strokeWidth": 1.1, "size": 24, "opacity": 1},
     "encoding": {
       "x": {"field": "T", "type": "quantitative", "scale": {"domain": [100, 310], "range": [126.7, 363], "nice": false, "zero": false},
             "axis": {"orient": "bottom", "offset": -138.7, "values": [100,125,150,175,200,225,250,275,300], "labelExpr": "datum.value % 50 == 0 ? datum.label : ''", "tickSize": {"condition": {"test": "datum.value % 50 != 0", "value": 4}, "value": 7}, "tickWidth": 2, "domainWidth": 2, "labelFontSize": 10.5, "labelPadding": 7, "title": "T (K)", "titleFontSize": 10.5, "titleBaseline": "alphabetic", "titleY": 37}},
       "y": {"field": "M", "type": "quantitative", "scale": {"domain": [6, 9], "range": [279.3, 145.7], "nice": false, "zero": false},
             "axis": {"orient": "left", "offset": -126.7, "values": [6,7,8,9], "format": "d", "tickSize": 7, "tickWidth": 2, "domainWidth": 2, "labelFontSize": 10.5, "labelPadding": 7, "title": "M x 10⁻³ (Am²/kg)", "titleFontSize": 9, "titleBaseline": "alphabetic", "titleAngle": -90, "titleX": -29, "titleY": 212.5}}}},
    {"data": {"name": "a_iarr"}, "mark": {"type": "rule", "color": "black", "strokeWidth": 2.5},
     "encoding": {"x": {"field": "T", "type": "quantitative"}, "y": {"field": "M", "type": "quantitative"}, "y2": {"field": "M2"}}},
    {"data": {"name": "a_iarr"}, "mark": {"type": "point", "filled": true, "fill": "black", "strokeWidth": 0, "size": 115, "opacity": 1},
     "encoding": {"x": {"field": "T", "type": "quantitative"}, "y": {"field": "M2", "type": "quantitative"},
                  "shape": {"field": "dir", "type": "nominal", "scale": {"domain": ["up", "down"], "range": ["M0,0L-1,2.6L1,2.6Z", "M0,0L-1,-2.6L1,-2.6Z"]}, "legend": null}}},
    {"data": {"name": "a_itxt"}, "mark": {"type": "text", "fontSize": 20, "fontWeight": "bold"},
     "encoding": {"x": {"field": "T", "type": "quantitative"}, "y": {"field": "M", "type": "quantitative"}, "text": {"field": "text"}}}
  ]}
 ]
},
{
 "spacing": 87,
 "bounds": "flush",
 "vconcat": [
 {
  "width": 387, "height": 418,
  "resolve": {"scale": {"x": "independent", "y": "independent"}},
  "layer": [
   {"layer": [
     {"data": {"name": "b_box"},
      "mark": {"type": "rect", "fill": "transparent", "stroke": "black", "strokeWidth": 2.5, "strokeDash": [3, 2]},
      "encoding": {
        "x": {"field": "T", "type": "quantitative", "scale": {"domain": [0, 300], "nice": false, "zero": false},
              "axis": {"values": [0,25,50,75,100,125,150,175,200,225,250,275,300], "labelExpr": "datum.value % 50 == 0 ? datum.label : ''", "tickSize": {"condition": {"test": "datum.value % 50 != 0", "value": 9}, "value": 18}, "title": "Temperature T (K)", "titleBaseline": "alphabetic", "titleY": 63, "labelPadding": 5}},
        "x2": {"field": "T2"},
        "y": {"field": "M", "type": "quantitative", "scale": {"domain": [-0.042, 0.35], "nice": false, "zero": false},
              "axis": {"values": [0,0.05,0.1,0.15,0.2,0.25,0.3,0.35], "format": ".2f", "title": "Magnetization M (Am²/kg)", "titleBaseline": "alphabetic", "titleAngle": -90, "titleX": -78, "titleY": 209, "labelPadding": 7}},
        "y2": {"field": "M2"}}},
     {"data": {"name": "b_con"}, "mark": {"type": "line", "color": "black", "strokeWidth": 1.3, "strokeDash": [2, 1.5]},
      "encoding": {"x": {"field": "T", "type": "quantitative"}, "y": {"field": "M", "type": "quantitative"}, "order": {"field": "k", "type": "quantitative"}}},
     {"data": {"name": "b_con"}, "transform": [{"filter": "datum.k == 3"}],
      "mark": {"type": "point", "shape": "M-1,-1L0,0L-1,1", "filled": false, "stroke": "black", "strokeWidth": 1.3, "size": 49, "angle": 315, "opacity": 1},
      "encoding": {"x": {"field": "T", "type": "quantitative"}, "y": {"field": "M", "type": "quantitative"}}},
     {"data": {"name": "b_main"}, "mark": {"type": "line", "color": "black", "strokeWidth": 1.2},
      "encoding": {"x": {"field": "T", "type": "quantitative"}, "y": {"field": "M", "type": "quantitative"}, "detail": {"field": "s"}}},
     {"data": {"name": "b_main"}, "mark": {"type": "point", "shape": "circle", "filled": true, "stroke": "black", "strokeWidth": 1.1, "size": 56, "opacity": 1},
      "encoding": {"x": {"field": "T", "type": "quantitative"}, "y": {"field": "M", "type": "quantitative"},
                   "fill": {"field": "s", "type": "nominal", "scale": {"domain": ["ZFC", "FC"], "range": ["black", "white"]}, "legend": null}}},
     {"data": {"name": "b_arr"}, "mark": {"type": "rule", "color": "black", "strokeWidth": 3},
      "encoding": {"x": {"field": "T", "type": "quantitative"}, "y": {"field": "M", "type": "quantitative"}, "y2": {"field": "M2"}}},
     {"data": {"name": "b_arr"}, "mark": {"type": "point", "filled": true, "fill": "black", "strokeWidth": 0, "size": 196, "opacity": 1},
      "encoding": {"x": {"field": "T", "type": "quantitative"}, "y": {"field": "M2", "type": "quantitative"},
                   "shape": {"field": "dir", "type": "nominal", "scale": {"domain": ["up", "down"], "range": ["M0,0L-1,2.6L1,2.6Z", "M0,0L-1,-2.6L1,-2.6Z"]}, "legend": null}}},
     {"data": {"name": "b_leg"}, "mark": {"type": "rule", "color": "black", "strokeWidth": 1.5},
      "encoding": {"x": {"field": "T", "type": "quantitative"}, "x2": {"field": "T2"}, "y": {"field": "M", "type": "quantitative"}}},
     {"data": {"name": "b_leg"}, "mark": {"type": "point", "shape": "circle", "filled": true, "stroke": "black", "strokeWidth": 1, "size": 90, "opacity": 1},
      "encoding": {"x": {"field": "Tc", "type": "quantitative"}, "y": {"field": "M", "type": "quantitative"},
                   "fill": {"field": "s", "type": "nominal", "scale": {"domain": ["ZFC", "FC"], "range": ["black", "white"]}, "legend": null}}},
     {"data": {"name": "b_txt"},
      "encoding": {"x": {"field": "T", "type": "quantitative"}, "y": {"field": "M", "type": "quantitative"}, "text": {"field": "text"}},
      "layer": [
        {"transform": [{"filter": "datum.role == 'panel'"}], "mark": {"type": "text", "fontSize": 30, "fontWeight": "bold", "align": "left"}},
        {"transform": [{"filter": "datum.role == 'head'"}], "mark": {"type": "text", "fontSize": 21, "fontWeight": "bold", "align": "right"}},
        {"transform": [{"filter": "datum.role == 'sub'"}], "mark": {"type": "text", "fontSize": 13, "fontWeight": "bold", "align": "left"}},
        {"transform": [{"filter": "datum.role == 'leg'"}], "mark": {"type": "text", "fontSize": 20, "fontWeight": "normal", "align": "left"}},
        {"transform": [{"filter": "datum.role == 'ann'"}], "mark": {"type": "text", "fontSize": 21, "fontWeight": "bold", "align": "center"}}
      ]}
   ]},
   {"layer": [
     {"data": {"name": "b_ins"}, "transform": [{"filter": "datum.s == 'FC'"}],
      "mark": {"type": "point", "shape": "circle", "filled": true, "fill": "white", "stroke": "#555555", "strokeWidth": 1, "size": 24, "opacity": 1},
      "encoding": {
        "x": {"field": "T", "type": "quantitative", "scale": {"domain": [50, 310], "range": [139.5, 353.1], "nice": false, "zero": false},
              "axis": {"orient": "bottom", "offset": -130.5, "values": [50,75,100,125,150,175,200,225,250,275,300], "labelExpr": "datum.value % 50 == 0 ? datum.label : ''", "tickSize": {"condition": {"test": "datum.value % 50 != 0", "value": 3}, "value": 5}, "tickWidth": 1.6, "domainWidth": 1.8, "labelFontSize": 9, "labelPadding": 6, "title": "T (K)", "titleFontSize": 9, "titleBaseline": "alphabetic", "titleY": 33}},
        "y": {"field": "M", "type": "quantitative", "scale": {"domain": [6.6, 7.9], "range": [287.5, 146.5], "nice": false, "zero": false},
              "axis": {"orient": "left", "offset": -139.5, "values": [6.6,6.8,7.0,7.2,7.4,7.6,7.8], "format": ".1f", "tickSize": 5, "tickWidth": 1.6, "domainWidth": 1.8, "labelFontSize": 9, "labelPadding": 5, "title": "M x 10⁻³ (Am²/kg)", "titleFontSize": 8.5, "titleBaseline": "alphabetic", "titleAngle": -90, "titleX": -34, "titleY": 217}}}},
     {"data": {"name": "b_ins"}, "transform": [{"filter": "datum.s == 'ZFC'"}],
      "mark": {"type": "point", "shape": "circle", "filled": true, "fill": "black", "stroke": "black", "strokeWidth": 1, "size": 24, "opacity": 1},
      "encoding": {"x": {"field": "T", "type": "quantitative"}, "y": {"field": "M", "type": "quantitative"}}},
     {"data": {"name": "b_iarr"}, "mark": {"type": "rule", "color": "black", "strokeWidth": 2.5},
      "encoding": {"x": {"field": "T", "type": "quantitative"}, "y": {"field": "M", "type": "quantitative"}, "y2": {"field": "M2"}}},
     {"data": {"name": "b_iarr"}, "mark": {"type": "point", "filled": true, "fill": "black", "strokeWidth": 0, "size": 110, "opacity": 1},
      "encoding": {"x": {"field": "T", "type": "quantitative"}, "y": {"field": "M2", "type": "quantitative"},
                   "shape": {"field": "dir", "type": "nominal", "scale": {"domain": ["up", "down"], "range": ["M0,0L-1,2.6L1,2.6Z", "M0,0L-1,-2.6L1,-2.6Z"]}, "legend": null}}},
     {"data": {"name": "b_itxt"}, "mark": {"type": "text", "fontSize": 16, "fontWeight": "bold"},
      "encoding": {"x": {"field": "T", "type": "quantitative"}, "y": {"field": "M", "type": "quantitative"}, "text": {"field": "text"}}}
   ]}
  ]
 },
 {
  "width": 387, "height": 418,
  "resolve": {"scale": {"x": "independent", "y": "independent"}},
  "layer": [
   {"layer": [
     {"data": {"name": "c_box"},
      "mark": {"type": "rect", "fill": "transparent", "stroke": "black", "strokeWidth": 2.5, "strokeDash": [3, 2]},
      "encoding": {
        "x": {"field": "T", "type": "quantitative", "scale": {"domain": [0, 300], "nice": false, "zero": false},
              "axis": {"values": [0,25,50,75,100,125,150,175,200,225,250,275,300], "labelExpr": "datum.value % 50 == 0 ? datum.label : ''", "tickSize": {"condition": {"test": "datum.value % 50 != 0", "value": 9}, "value": 18}, "title": "Temperature T (K)", "titleBaseline": "alphabetic", "titleY": 64, "labelPadding": 5}},
        "x2": {"field": "T2"},
        "y": {"field": "M", "type": "quantitative", "scale": {"domain": [7.8, 9.6], "nice": false, "zero": false},
              "axis": {"values": [7.8,7.9,8.0,8.1,8.2,8.3,8.4,8.5,8.6,8.7,8.8,8.9,9.0,9.1,9.2,9.3,9.4,9.5,9.6], "format": ".1f", "labelExpr": "round(datum.value*10) % 2 == 0 ? datum.label : ''", "tickSize": {"condition": {"test": "round(datum.value*10) % 2 != 0", "value": 9}, "value": 18}, "title": "Magnetization M x 10⁻³(Am²/kg)", "titleBaseline": "alphabetic", "titleAngle": -90, "titleX": -78, "titleY": 209, "labelPadding": 13}},
        "y2": {"field": "M2"}}},
     {"data": {"name": "c_con"}, "mark": {"type": "line", "color": "black", "strokeWidth": 1.3, "strokeDash": [2, 1.5]},
      "encoding": {"x": {"field": "T", "type": "quantitative"}, "y": {"field": "M", "type": "quantitative"}, "order": {"field": "k", "type": "quantitative"}}},
     {"data": {"name": "c_con"}, "transform": [{"filter": "datum.k == 3"}],
      "mark": {"type": "point", "shape": "M-1,-1L0,0L-1,1", "filled": false, "stroke": "black", "strokeWidth": 1.3, "size": 49, "angle": 330, "opacity": 1},
      "encoding": {"x": {"field": "T", "type": "quantitative"}, "y": {"field": "M", "type": "quantitative"}}},
     {"data": {"name": "c_main"}, "mark": {"type": "line", "color": "black", "strokeWidth": 1.2},
      "encoding": {"x": {"field": "T", "type": "quantitative"}, "y": {"field": "M", "type": "quantitative"}, "detail": {"field": "s"}}},
     {"data": {"name": "c_main"}, "mark": {"type": "point", "shape": "circle", "filled": true, "stroke": "black", "strokeWidth": 1, "size": 56, "opacity": 1},
      "encoding": {"x": {"field": "T", "type": "quantitative"}, "y": {"field": "M", "type": "quantitative"},
                   "fill": {"field": "s", "type": "nominal", "scale": {"domain": ["ZFC", "FC"], "range": ["black", "white"]}, "legend": null}}},
     {"data": {"name": "c_arr"}, "mark": {"type": "rule", "color": "black", "strokeWidth": 3},
      "encoding": {"x": {"field": "T", "type": "quantitative"}, "y": {"field": "M", "type": "quantitative"}, "y2": {"field": "M2"}}},
     {"data": {"name": "c_arr"}, "mark": {"type": "point", "filled": true, "fill": "black", "strokeWidth": 0, "size": 196, "opacity": 1},
      "encoding": {"x": {"field": "T", "type": "quantitative"}, "y": {"field": "M2", "type": "quantitative"},
                   "shape": {"field": "dir", "type": "nominal", "scale": {"domain": ["up", "down"], "range": ["M0,0L-1,2.6L1,2.6Z", "M0,0L-1,-2.6L1,-2.6Z"]}, "legend": null}}},
     {"data": {"name": "c_leg"}, "mark": {"type": "rule", "color": "black", "strokeWidth": 1.5},
      "encoding": {"x": {"field": "T", "type": "quantitative"}, "x2": {"field": "T2"}, "y": {"field": "M", "type": "quantitative"}}},
     {"data": {"name": "c_leg"}, "mark": {"type": "point", "shape": "circle", "filled": true, "stroke": "black", "strokeWidth": 1, "size": 90, "opacity": 1},
      "encoding": {"x": {"field": "Tc", "type": "quantitative"}, "y": {"field": "M", "type": "quantitative"},
                   "fill": {"field": "s", "type": "nominal", "scale": {"domain": ["ZFC", "FC"], "range": ["black", "white"]}, "legend": null}}},
     {"data": {"name": "c_txt"},
      "encoding": {"x": {"field": "T", "type": "quantitative"}, "y": {"field": "M", "type": "quantitative"}, "text": {"field": "text"}},
      "layer": [
        {"transform": [{"filter": "datum.role == 'panel'"}], "mark": {"type": "text", "fontSize": 28, "fontWeight": "bold", "align": "left"}},
        {"transform": [{"filter": "datum.role == 'head'"}], "mark": {"type": "text", "fontSize": 21, "fontWeight": "bold", "align": "right"}},
        {"transform": [{"filter": "datum.role == 'sub'"}], "mark": {"type": "text", "fontSize": 13, "fontWeight": "bold", "align": "left"}},
        {"transform": [{"filter": "datum.role == 'leg'"}], "mark": {"type": "text", "fontSize": 20, "fontWeight": "normal", "align": "left"}},
        {"transform": [{"filter": "datum.role == 'ann'"}], "mark": {"type": "text", "fontSize": 21, "fontWeight": "bold", "align": "center"}}
      ]}
   ]},
   {"layer": [
     {"data": {"name": "c_ins"}, "transform": [{"filter": "datum.s == 'FC'"}],
      "mark": {"type": "line", "color": "#777777", "strokeWidth": 0.8},
      "encoding": {
        "x": {"field": "T", "type": "quantitative", "scale": {"domain": [10, 70], "range": [181.8, 300.6], "nice": false, "zero": false},
              "axis": {"orient": "bottom", "offset": -59.9, "values": [10,15,20,25,30,35,40,45,50,55,60,65,70], "labelExpr": "datum.value % 10 == 0 ? datum.label : ''", "tickSize": {"condition": {"test": "datum.value % 10 != 0", "value": 2}, "value": 4}, "tickWidth": 1.2, "domainWidth": 1.5, "labelFontSize": 7.5, "labelPadding": 3, "title": "T (K)", "titleFontSize": 7.5, "titleBaseline": "alphabetic", "titleY": 21}},
        "y": {"field": "M", "type": "quantitative", "scale": {"domain": [7.9, 9.2], "range": [358.1, 252.8], "nice": false, "zero": false},
              "axis": {"orient": "left", "offset": -181.8, "values": [8.0,8.2,8.4,8.6,8.8,9.0,9.2], "format": ".1f", "tickSize": 3.5, "tickWidth": 1.2, "domainWidth": 1.5, "labelFontSize": 7, "labelPadding": 2.5, "title": "M x 10⁻³(Am²/kg)", "titleFontSize": 6.5, "titleBaseline": "alphabetic", "titleAngle": -90, "titleX": -23, "titleY": 305.5}}}},
     {"data": {"name": "c_ins"}, "transform": [{"filter": "datum.s == 'ZFC'"}],
      "mark": {"type": "line", "color": "black", "strokeWidth": 1},
      "encoding": {"x": {"field": "T", "type": "quantitative"}, "y": {"field": "M", "type": "quantitative"}}},
     {"data": {"name": "c_ins"}, "transform": [{"filter": "datum.s == 'FC'"}],
      "mark": {"type": "point", "shape": "circle", "filled": true, "fill": "white", "stroke": "#666666", "strokeWidth": 0.9, "size": 18, "opacity": 1},
      "encoding": {"x": {"field": "T", "type": "quantitative"}, "y": {"field": "M", "type": "quantitative"}}},
     {"data": {"name": "c_ins"}, "transform": [{"filter": "datum.s == 'ZFC'"}],
      "mark": {"type": "point", "shape": "circle", "filled": true, "fill": "black", "stroke": "black", "strokeWidth": 0.5, "size": 18, "opacity": 1},
      "encoding": {"x": {"field": "T", "type": "quantitative"}, "y": {"field": "M", "type": "quantitative"}}},
     {"data": {"name": "c_iarr"}, "mark": {"type": "rule", "color": "black", "strokeWidth": 1.6},
      "encoding": {"x": {"field": "T", "type": "quantitative"}, "y": {"field": "M", "type": "quantitative"}, "y2": {"field": "M2"}}},
     {"data": {"name": "c_iarr"}, "mark": {"type": "point", "filled": true, "fill": "black", "strokeWidth": 0, "size": 59, "opacity": 1},
      "encoding": {"x": {"field": "T", "type": "quantitative"}, "y": {"field": "M2", "type": "quantitative"},
                   "shape": {"field": "dir", "type": "nominal", "scale": {"domain": ["up", "down"], "range": ["M0,0L-1,2.6L1,2.6Z", "M0,0L-1,-2.6L1,-2.6Z"]}, "legend": null}}},
     {"data": {"name": "c_itxt"}, "mark": {"type": "text", "fontSize": 11.5, "fontWeight": "bold"},
      "encoding": {"x": {"field": "T", "type": "quantitative"}, "y": {"field": "M", "type": "quantitative"}, "text": {"field": "text"}}}
   ]}
  ]
 }
 ]
}
]
}
